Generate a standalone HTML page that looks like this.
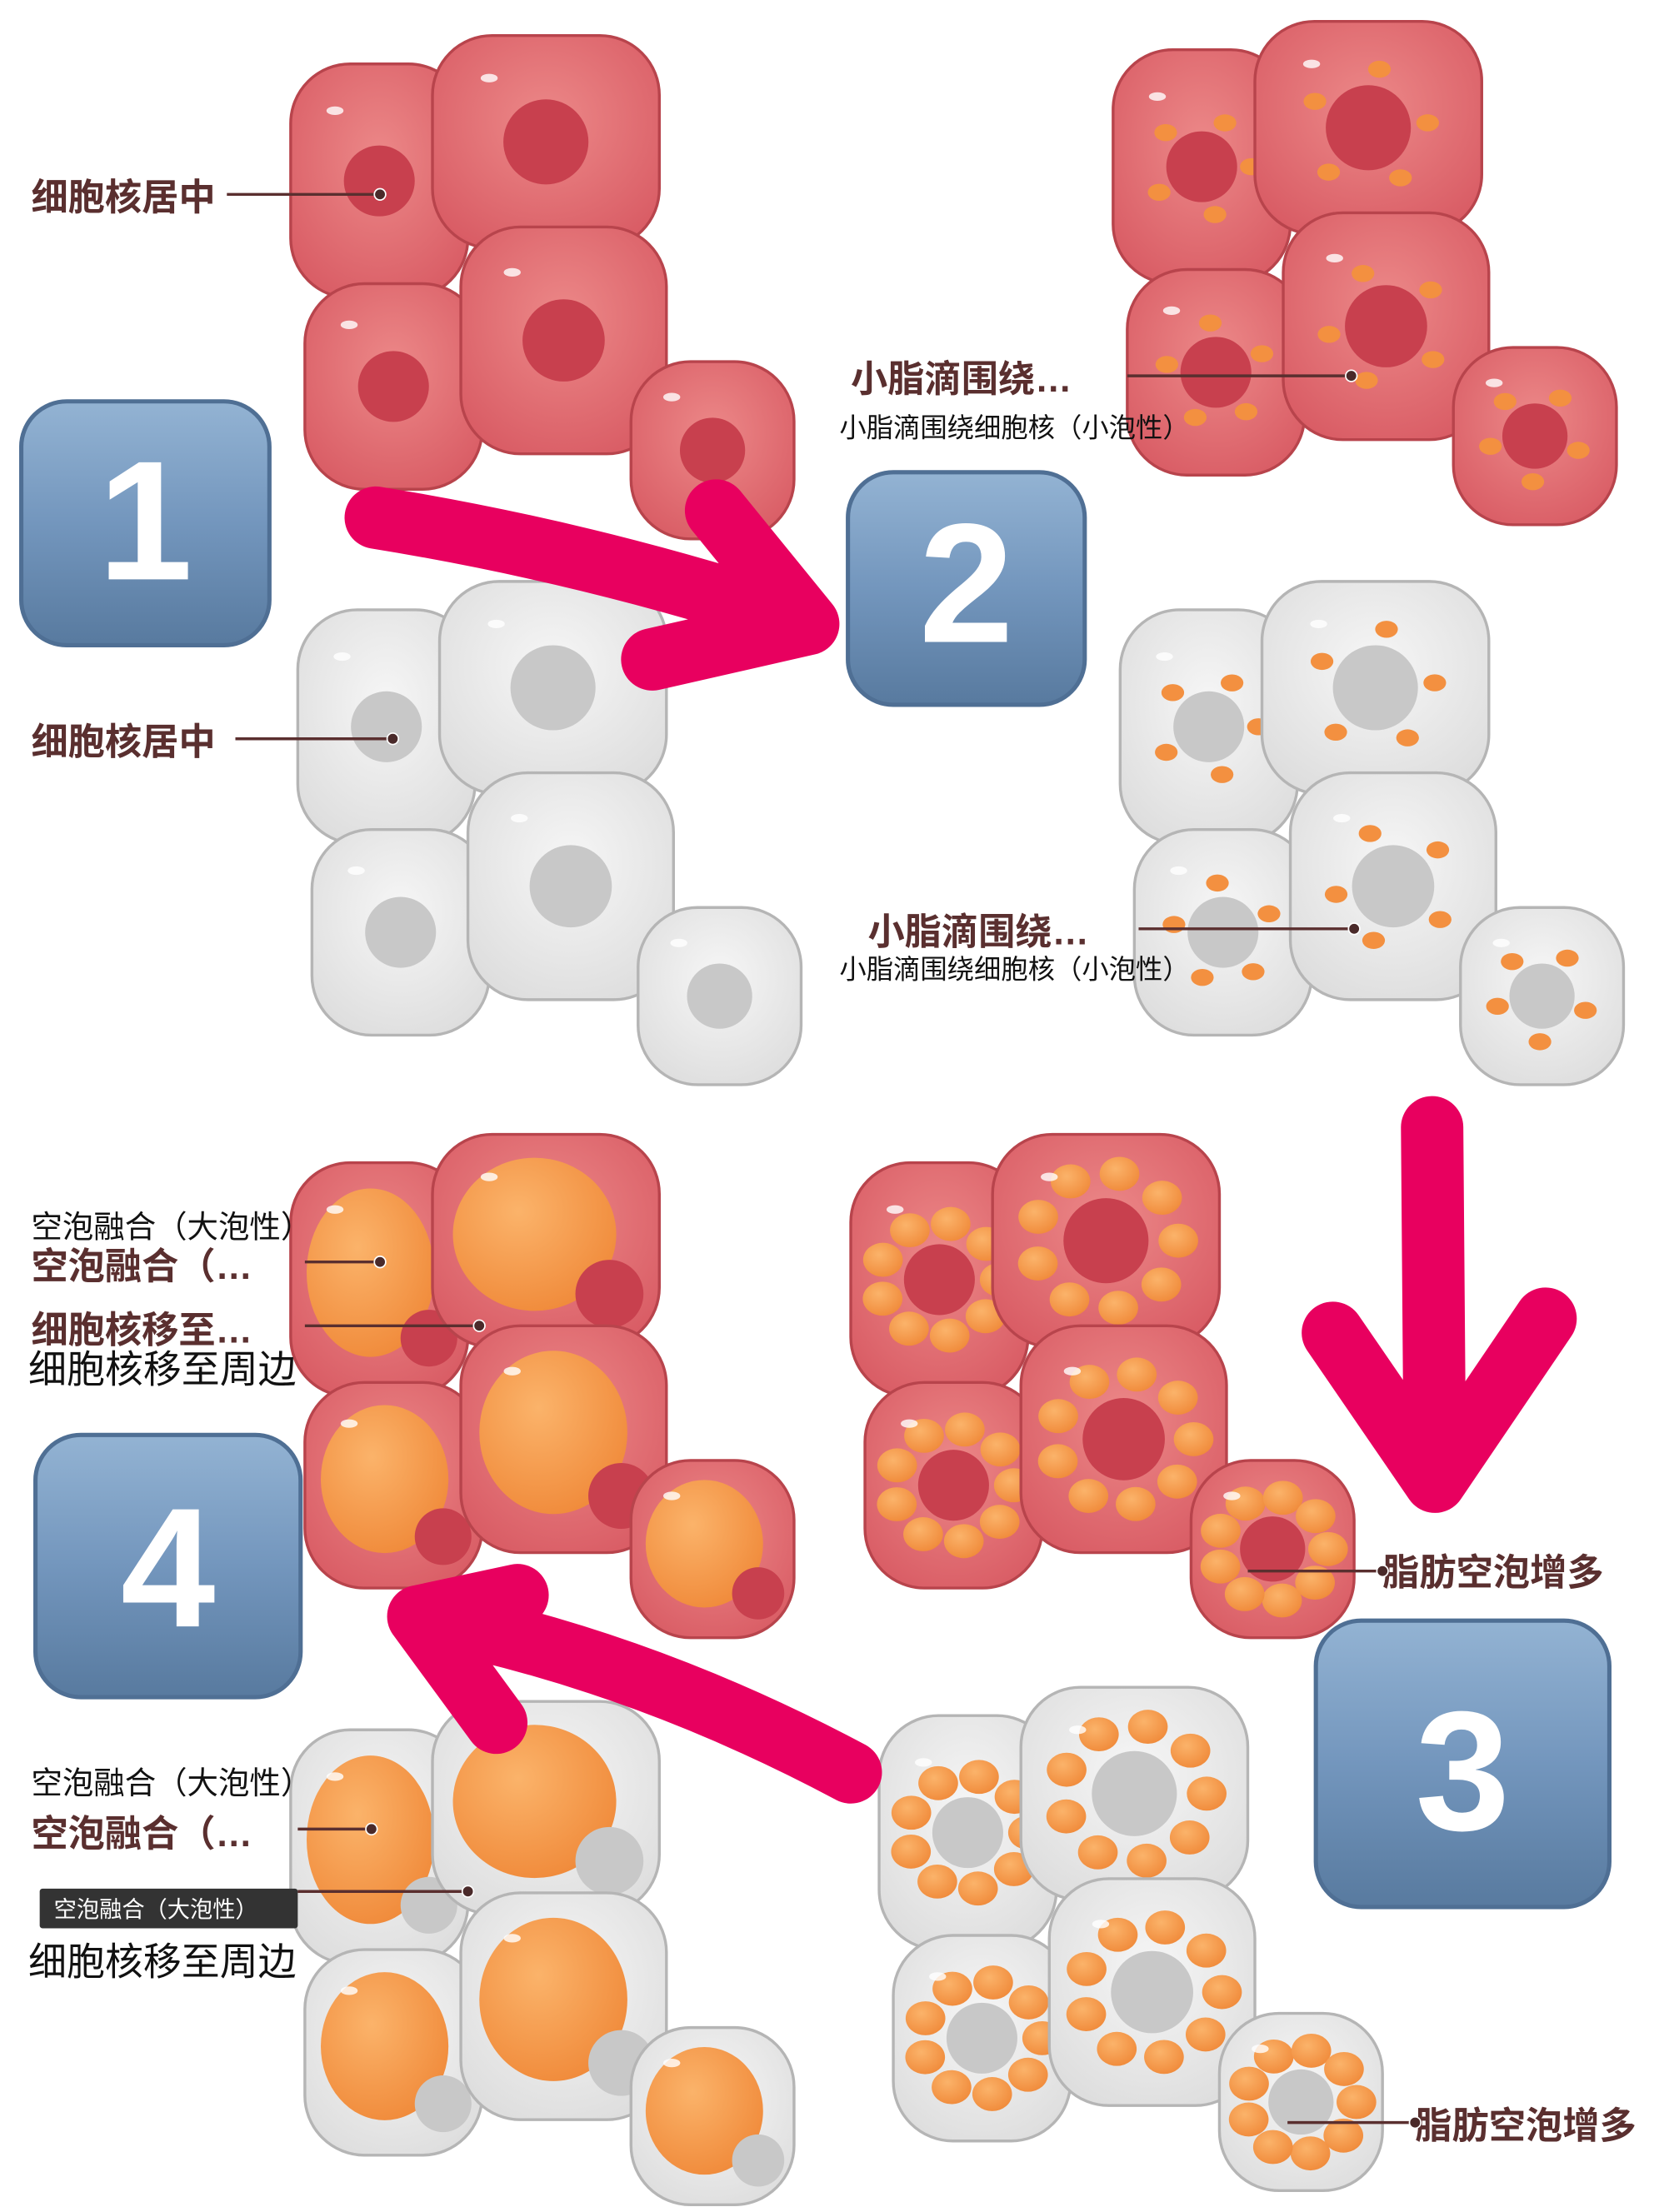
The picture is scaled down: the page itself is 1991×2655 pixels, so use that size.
<!DOCTYPE html>
<html><head><meta charset="utf-8"><style>
html,body{margin:0;padding:0;background:#fff;width:1991px;height:2655px;overflow:hidden}
svg{display:block}
.lb{font-family:"Liberation Sans","Noto Sans CJK SC",sans-serif;font-weight:bold;fill:#5a2f2f;font-size:26px}
.ln{font-family:"Liberation Sans","Noto Sans CJK SC",sans-serif;fill:#111;font-size:22px}
.lg{font-family:"Liberation Sans","Noto Sans CJK SC",sans-serif;fill:#111;font-size:27px}
.ls{font-family:"Liberation Sans","Noto Sans CJK SC",sans-serif;fill:#111;font-size:19px}
.bn{font-family:"Liberation Sans",sans-serif;font-weight:bold;fill:#fff;font-size:120px}
</style></head><body>
<svg id="s" width="1991" height="2655" viewBox="0 0 1170 1560" xmlns="http://www.w3.org/2000/svg">
<defs>
<linearGradient id="bg" x1="0" y1="0" x2="0" y2="1"><stop offset="0" stop-color="#93b3d3"/><stop offset="0.5" stop-color="#7396bd"/><stop offset="1" stop-color="#587a9f"/></linearGradient>
<radialGradient id="rc" cx="0.5" cy="0.4" r="0.7"><stop offset="0" stop-color="#ec8888"/><stop offset="1" stop-color="#d85a63"/></radialGradient>
<radialGradient id="gc" cx="0.5" cy="0.4" r="0.7"><stop offset="0" stop-color="#f6f6f6"/><stop offset="1" stop-color="#dcdcdc"/></radialGradient>
<radialGradient id="fat" cx="0.4" cy="0.35" r="0.7"><stop offset="0" stop-color="#fbb36a"/><stop offset="1" stop-color="#f08a3a"/></radialGradient>
</defs>
<g id="cl"></g>
<g id="ov"></g>
</svg>
<script>
const NS='http://www.w3.org/2000/svg';
const cl=document.getElementById('cl'),ov=document.getElementById('ov');
function mk(t,a,p){const e=document.createElementNS(NS,t);for(const k in a)e.setAttribute(k,a[k]);(p||cl).appendChild(e);return e;}
const cells=[[0,20,125,165],[100,0,160,150],[10,175,125,145],[120,135,145,160],[240,230,115,125]];
const clusters=[
 {x:205,y:25,red:true,stage:1},{x:210,y:410,red:false,stage:1},
 {x:785,y:15,red:true,stage:2},{x:790,y:410,red:false,stage:2},
 {x:600,y:800,red:true,stage:3},{x:620,y:1190,red:false,stage:3},
 {x:205,y:800,red:true,stage:4},{x:205,y:1200,red:false,stage:4}];
clusters.forEach((c,ci)=>{
 const g=mk('g',{transform:`translate(${c.x},${c.y})`});
 
 
 cells.forEach((r,i)=>{
  const [x,y,w,h]=r;
  mk('rect',{x,y,width:w,height:h,rx:42,fill:c.red?'url(#rc)':'url(#gc)',stroke:c.red?'#b8444c':'#b5b5b5','stroke-width':2},g);
  const cx=x+w/2,cy=y+h/2,nr=Math.min(w,h)*0.2;
  const nuc=c.red?'#c8404e':'#c8c8c8';
  if(c.stage===1){mk('circle',{cx,cy,r:nr,fill:nuc},g);}
  else if(c.stage===2){mk('circle',{cx,cy,r:nr,fill:nuc},g);
   for(let k=0;k<5;k++){const a=k*1.3+i;mk('ellipse',{cx:cx+Math.cos(a)*nr*1.4,cy:cy+Math.sin(a)*nr*1.4,rx:8,ry:6,fill:'#f39040'},g);}}
  else if(c.stage===3){mk('circle',{cx,cy,r:nr,fill:nuc},g);
   for(let k=0;k<9;k++){const a=k*0.7;mk('ellipse',{cx:cx+Math.cos(a)*nr*1.7,cy:cy+Math.sin(a)*nr*1.6,rx:14,ry:12,fill:'url(#fat)'},g);}}
  else {mk('ellipse',{cx:cx-w*0.05,cy:cy-h*0.03,rx:w*0.36,ry:h*0.36,fill:'url(#fat)'},g);
   mk('circle',{cx:x+w*0.78,cy:y+h*0.75,r:nr*0.8,fill:nuc},g);}
  mk('ellipse',{cx:x+w*0.25,cy:y+h*0.2,rx:6,ry:3,fill:'#fff',opacity:0.8},g);
 });
});
function arrow(d,name){const p=mk('path',{d,fill:'none',stroke:'#e8005f','stroke-width':44,'stroke-linecap':'round','stroke-linejoin':'round'},ov);
 }
arrow('M265 365 Q420 390 570 440 M505 360 L570 440 L460 465','arrow-1-to-2');
arrow('M1010 795 L1012 1045 M940 940 L1012 1045 L1090 930','arrow-2-to-3');
arrow('M600 1250 Q450 1170 295 1140 M365 1125 L295 1140 L350 1215','arrow-3-to-4');
[[15,283,175,172,'1'],[598,333,167,164,'2'],[928,1143,207,202,'3'],[25,1012,187,185,'4']].forEach(b=>{
 const g=mk('g',{},ov);
 mk('rect',{x:b[0],y:b[1],width:b[2],height:b[3],rx:32,fill:'url(#bg)',stroke:'#4f6f94','stroke-width':3},g);
 const t=mk('text',{x:b[0]+b[2]/2,y:b[1]+b[3]*0.73,'text-anchor':'middle',class:'bn','font-size':b[3]*0.72},g);t.textContent=b[4];
});
function lab(x,y,txt,cls,name){const t=mk('text',{x,y,class:cls},ov);t.textContent=txt;}
function lead(x1,y,x2){mk('line',{x1,y1:y,x2,y2:y,stroke:'#5a2f2f','stroke-width':2},ov);mk('circle',{cx:x2,cy:y,r:4,fill:'#4a2a2a',stroke:'#fff','stroke-width':1},ov);}
lab(22,148,'细胞核居中','lb','label-nucleus-center-1');lead(160,137,268);
lab(22,532,'细胞核居中','lb','label-nucleus-center-2');lead(166,521,277);
lab(600,276,'小脂滴围绕…','lb','label-small-droplets-1');lead(795,265,953);
lab(592,308,'小脂滴围绕细胞核（小泡性）','ls','label-small-droplets-full-1');
lab(612,666,'小脂滴围绕…','lb','label-small-droplets-2');lead(803,655,955);
lab(592,690,'小脂滴围绕细胞核（小泡性）','ls','label-small-droplets-full-2');
lab(22,873,'空泡融合（大泡性）','ln','label-vacuole-fusion-full-1');
lab(22,902,'空泡融合（…','lb','label-vacuole-fusion-1');lead(215,890,268);
lab(22,947,'细胞核移至…','lb','label-nucleus-moves-1');lead(215,935,338);
lab(20,975,'细胞核移至周边','lg','label-nucleus-periphery-1');
lab(975,1118,'脂肪空泡增多','lb','label-fat-vacuoles-1');lead(880,1108,975);
lab(22,1265,'空泡融合（大泡性）','ln','label-vacuole-fusion-full-2');
lab(22,1302,'空泡融合（…','lb','label-vacuole-fusion-2');lead(210,1290,262);
const tip=mk('rect',{x:28,y:1332,width:182,height:28,fill:'#333',rx:2},ov);
const tt=mk('text',{x:38,y:1352,fill:'#fff','font-size':16,'font-family':'"Liberation Sans","Noto Sans CJK SC",sans-serif'},ov);tt.textContent='空泡融合（大泡性）';
lead(210,1334,330);
lab(20,1393,'细胞核移至周边','lg','label-nucleus-periphery-2');
lab(998,1508,'脂肪空泡增多','lb','label-fat-vacuoles-2');lead(908,1497,998);
</script>
</body></html>
